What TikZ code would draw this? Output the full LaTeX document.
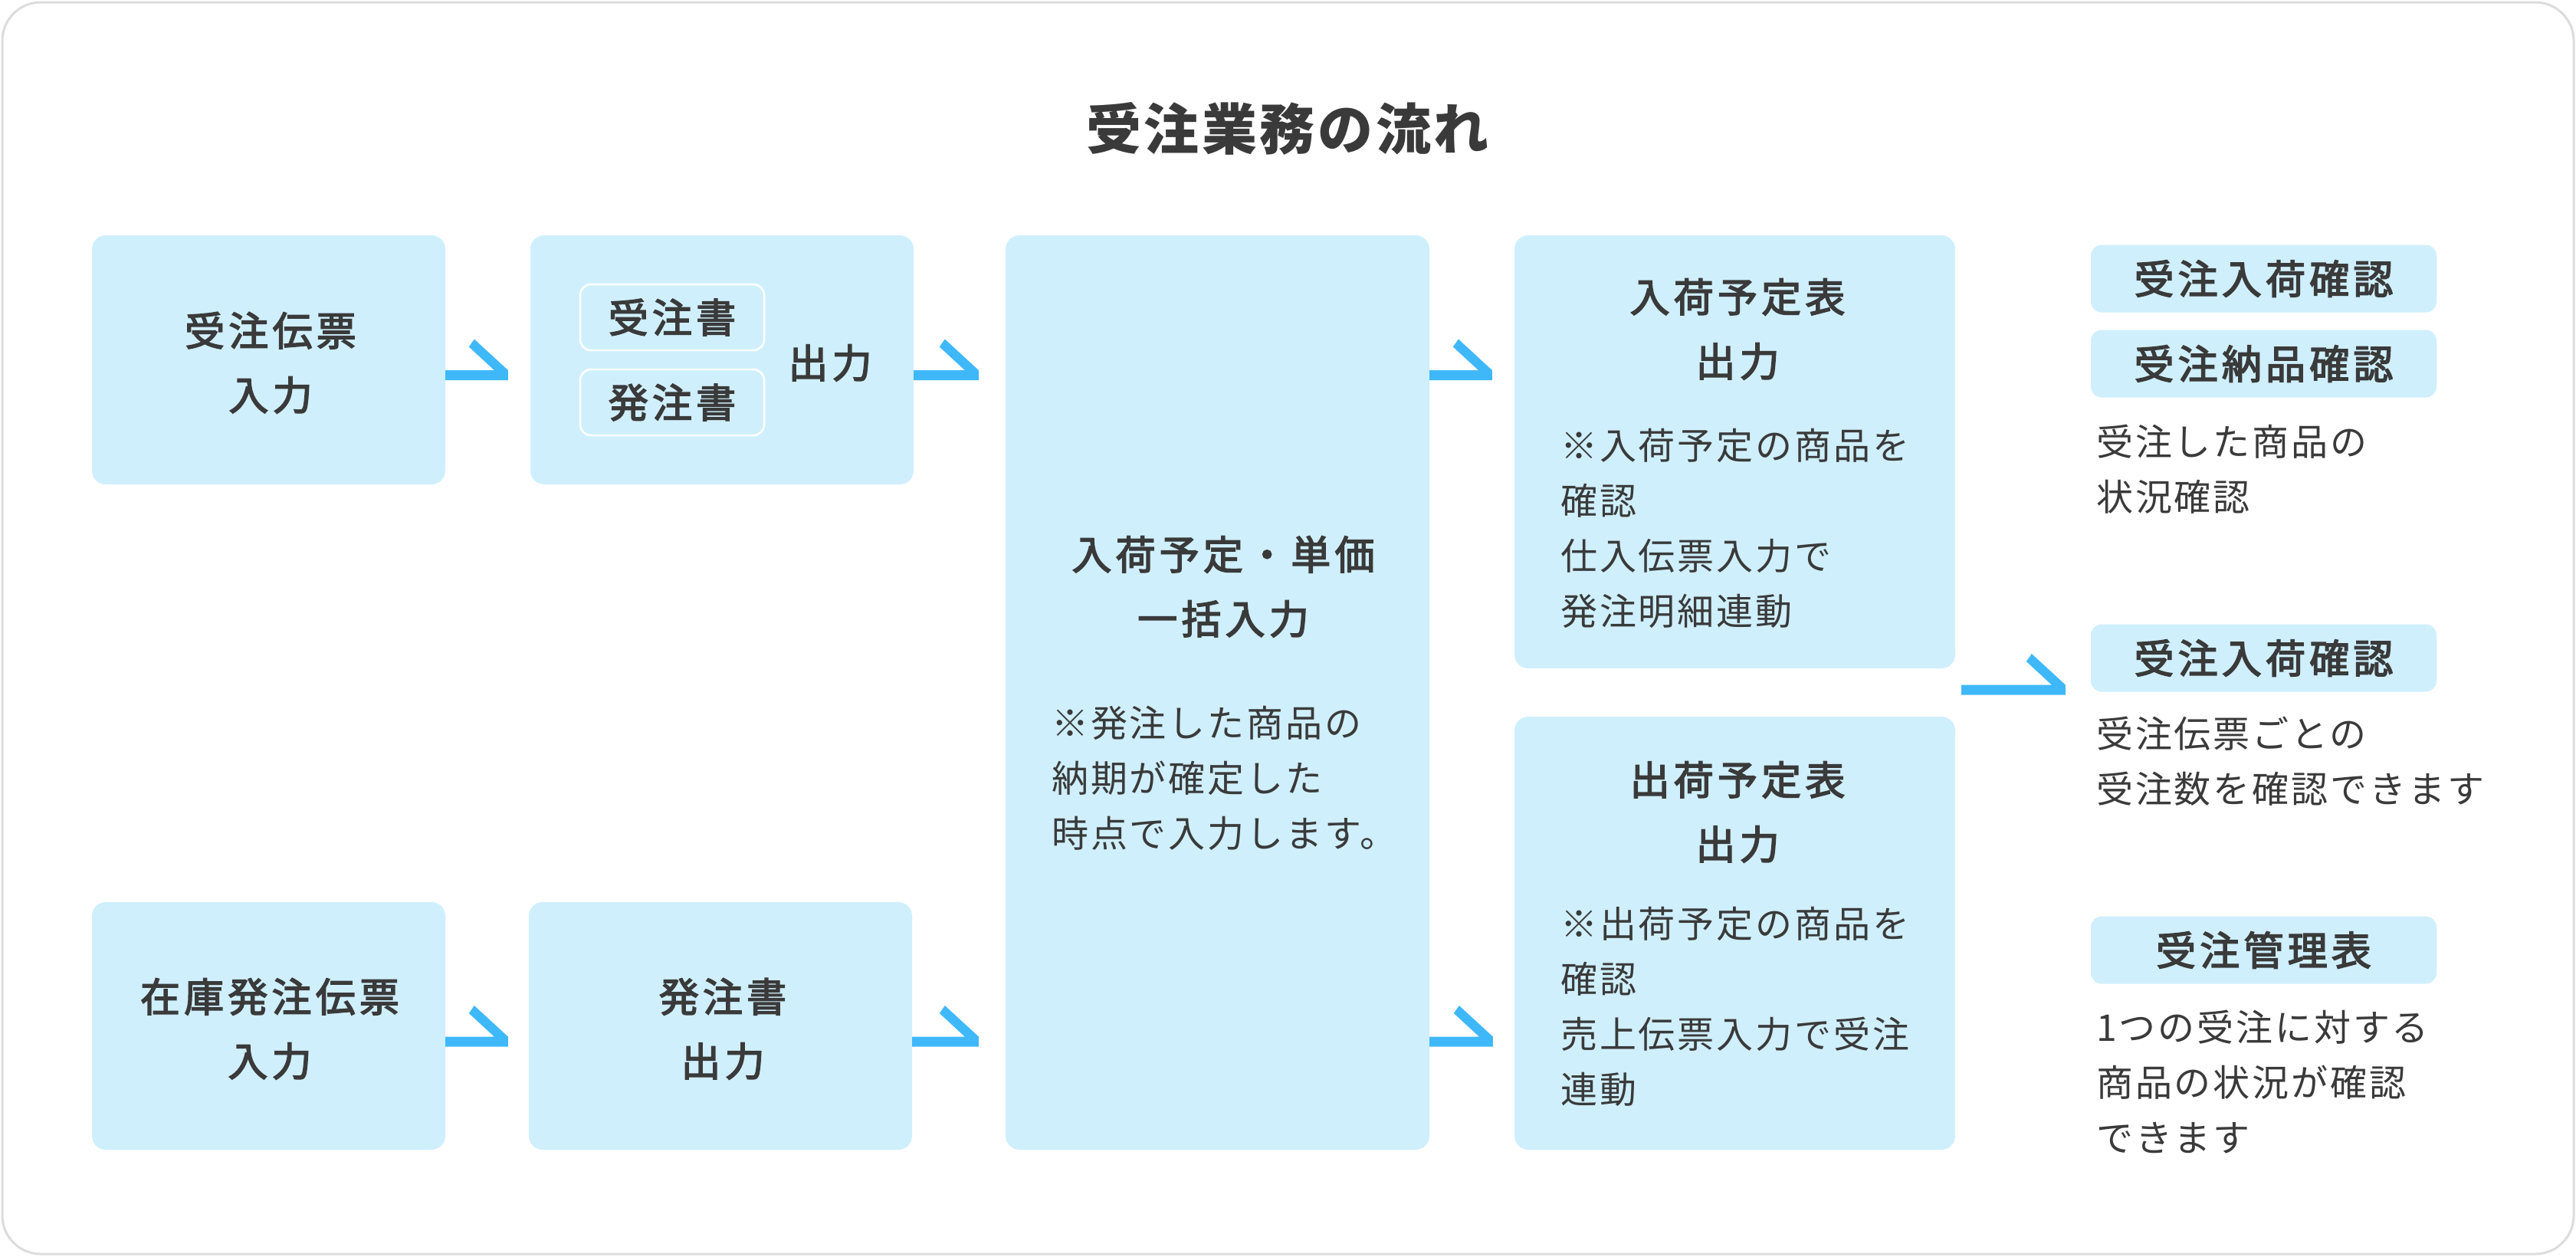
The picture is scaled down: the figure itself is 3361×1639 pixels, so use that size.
\documentclass[tikz,border=0pt]{standalone}
\usepackage{fontspec}
\setmainfont{Noto Sans CJK JP}
\newfontfamily\headfont[FakeBold=3,LetterSpace=10]{Noto Sans CJK JP}
\usetikzlibrary{calc}
\definecolor{boxfill}{HTML}{CFEFFD}
\definecolor{arrowc}{HTML}{3FB8F9}
\definecolor{txt}{HTML}{3A3A3A}
\definecolor{framec}{HTML}{DCDCDC}
\newcommand\hookarrow[2]{%
  \fill[arrowc] ($(#1)+(0,6.5)$) -- ($(#2)+(0,6.5)$) -- ($(#2)+(0,-6.5)$) -- ($(#2)+(-44,-47)$) -- ($(#2)+(-51,-37)$) -- ($(#2)+(-18,-6.5)$) -- ($(#1)+(0,-6.5)$) -- cycle;}
\begin{document}
\begin{tikzpicture}[x=1pt,y=-1pt,
  box/.style={fill=boxfill, draw=none, rounded corners=18pt, inner sep=0pt},
  tag/.style={fill=boxfill, draw=none, rounded corners=14pt, inner sep=0pt, minimum width=451pt, minimum height=88pt, text=txt, font=\headfont\fontsize{52}{84}\selectfont},
  innerbox/.style={fill=boxfill, draw=white, line width=2.5pt, rounded corners=14pt, inner sep=0pt, minimum width=240pt, minimum height=86pt, text=txt, font=\headfont\fontsize{52}{84}\selectfont},
  head/.style={anchor=base, align=center, inner sep=0pt, text=txt, font=\headfont\fontsize{52}{84}\selectfont},
  body/.style={anchor=base west, align=left, inner sep=0pt, text=txt, font=\fontsize{48}{72}\selectfont\addfontfeature{LetterSpace=6}},
  ]
\useasboundingbox (0,0) rectangle (3361,1639);
\draw[framec, line width=3pt, rounded corners=50pt] (3,3) rectangle (3358,1636);

% title
\node[anchor=base, inner sep=0pt, text=txt, font=\fontsize{72}{80}\selectfont\bfseries\addfontfeature{LetterSpace=5}] (title) at (1680,195) {受注業務の流れ};

% boxes
\node[box, minimum width=461pt, minimum height=325pt] (A) at (350.5,469.5) {};
\node[box, minimum width=500pt, minimum height=325pt] (B) at (942,469.5) {};
\node[box, minimum width=553pt, minimum height=1193pt] (C) at (1588.5,903.5) {};
\node[box, minimum width=575pt, minimum height=565pt] (D) at (2263.5,589.5) {};
\node[box, minimum width=575pt, minimum height=565pt] (E) at (2263.5,1217.5) {};
\node[box, minimum width=461pt, minimum height=323pt] (F) at (350.5,1338.5) {};
\node[box, minimum width=500pt, minimum height=323pt] (G) at (940,1338.5) {};

% box texts (base anchor = baseline of the last line)
\node[head] (At) at (353,535) {受注伝票\\入力};
\node[innerbox] (B1) at (877,414) {受注書};
\node[innerbox] (B2) at (877,525) {発注書};
\node[head] (Bt) at (1083,493) {出力};
\node[head] (Ct) at (1596,827) {入荷予定・単価\\一括入力};
\node[body] (Cb) at (1372,1105) {※発注した商品の\\納期が確定した\\時点で入力します。};
\node[head] (Dt) at (2267,491) {入荷予定表\\出力};
\node[body] (Db) at (2036,815) {※入荷予定の商品を\\確認\\仕入伝票入力で\\発注明細連動};
\node[head] (Et) at (2267,1121) {出荷予定表\\出力};
\node[body] (Eb) at (2036,1439) {※出荷予定の商品を\\確認\\売上伝票入力で受注\\連動};
\node[head] (Ft) at (352,1404) {在庫発注伝票\\入力};
\node[head] (Gt) at (943,1404) {発注書\\出力};

% right column
\node[tag] (T1) at (2953.5,363.5) {受注入荷確認};
\node[tag] (T2) at (2953.5,474.5) {受注納品確認};
\node[body] (R1) at (2735,666) {受注した商品の\\状況確認};
\node[tag] (T3) at (2953.5,858.5) {受注入荷確認};
\node[body] (R2) at (2735,1047) {受注伝票ごとの\\受注数を確認できます};
\node[tag] (T4) at (2953.5,1239.5) {受注管理表};
\node[body] (R3) at (2735,1502) {1つの受注に対する\\商品の状況が確認\\できます};

% arrows
\coordinate (r1) at (0,489.5);
\coordinate (r2) at (0,1359);
\coordinate (a1s) at (A.east |- r1);
\coordinate (a1e) at ($(B.west |- r1)+(-29,0)$);
\coordinate (a2s) at (B.east |- r1);
\coordinate (a2e) at ($(C.west |- r1)+(-35,0)$);
\coordinate (a3s) at (C.east |- r1);
\coordinate (a3e) at ($(D.west |- r1)+(-29,0)$);
\coordinate (b1s) at (F.east |- r2);
\coordinate (b1e) at ($(G.west |- r2)+(-27,0)$);
\coordinate (b2s) at (G.east |- r2);
\coordinate (b2e) at ($(C.west |- r2)+(-35,0)$);
\coordinate (b3s) at (C.east |- r2);
\coordinate (b3e) at ($(E.west |- r2)+(-28,0)$);
\coordinate (mid) at ($(D.south east)!.5!(E.north east)$);
\coordinate (c1s) at ($(mid)+(8,-3.5)$);
\coordinate (c1e) at ($(T3.west |- c1s)+(-33,0)$);
\hookarrow{a1s}{a1e}
\hookarrow{a2s}{a2e}
\hookarrow{a3s}{a3e}
\hookarrow{b1s}{b1e}
\hookarrow{b2s}{b2e}
\hookarrow{b3s}{b3e}
\hookarrow{c1s}{c1e}
\end{tikzpicture}
\end{document}
